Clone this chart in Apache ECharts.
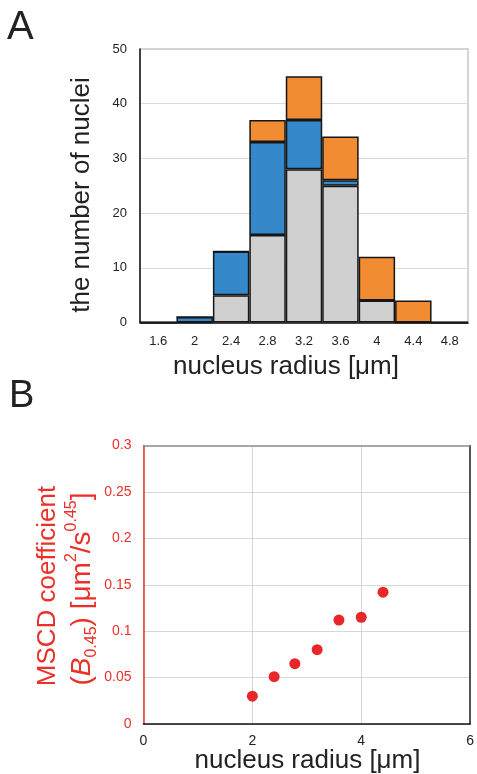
<!DOCTYPE html>
<html>
<head>
<meta charset="utf-8">
<script src="https://cdn.jsdelivr.net/npm/echarts@6/dist/echarts.min.js"></script>
<style>
  html, body { margin: 0; padding: 0; background: #fff; }
  #main { width: 477px; height: 774px; }
</style>
</head>
<body>
<div id="main"></div>
<script>
// panel A: histogram of nucleus radius (stacked)
const radiusBins = ['1.6', '2', '2.4', '2.8', '3.2', '3.6', '4', '4.4', '4.8'];
const greyCounts = [0, 0, 5, 16, 28, 25, 4, 0, 0];
const blueCounts = [0, 1, 8, 17, 9, 1, 0, 0, 0];
const orangeCounts = [0, 0, 0, 4, 8, 8, 8, 4, 0];

// panel B: MSCD coefficient vs nucleus radius
const radiusB = [2.0, 2.4, 2.78, 3.19, 3.59, 4.0, 4.4];
const mscdB = [0.030, 0.051, 0.065, 0.080, 0.112, 0.115, 0.142];

const chart = echarts.init(document.getElementById('main'));
const font = '"Liberation Sans", Arial, sans-serif';
const red = '#ec2f27';
const ink = '#222';

function stackBar(name, data, color) {
  return {
    name: name,
    type: 'bar',
    stack: 'count',
    xAxisIndex: 0,
    yAxisIndex: 0,
    barCategoryGap: '0%',
    data: data,
    itemStyle: { color: color, borderColor: '#161616', borderWidth: 1.5 }
  };
}

const option = {
  animation: false,
  textStyle: { fontFamily: font },
  grid: [
    { left: 140, top: 49, width: 328, height: 273.5, show: true,
      borderColor: '#c6c6c6', borderWidth: 1.5, backgroundColor: 'transparent' },
    { left: 143.5, top: 445.5, width: 329.5, height: 278.5 }
  ],
  xAxis: [
    {
      gridIndex: 0, type: 'category', data: radiusBins,
      axisLine: { lineStyle: { color: '#111', width: 1.5 } },
      axisTick: { show: false },
      axisLabel: { color: ink, fontSize: 13, margin: 12 }
    },
    {
      gridIndex: 1, type: 'value', min: 0, max: 6, interval: 2,
      axisLine: { onZero: false, lineStyle: { color: '#111', width: 1.5 } },
      axisTick: { show: false },
      axisLabel: { color: ink, fontSize: 14, margin: 10 },
      splitLine: { lineStyle: { color: '#d6d6d6', width: 1 }, showMaxLine: false }
    },
    {
      gridIndex: 1, type: 'value', min: 0, max: 6, position: 'top',
      axisLine: { onZero: false, lineStyle: { color: '#8a8a8a', width: 1.5 } },
      axisTick: { show: false }, axisLabel: { show: false }, splitLine: { show: false }
    }
  ],
  yAxis: [
    {
      gridIndex: 0, type: 'value', min: 0, max: 50, interval: 10,
      axisLine: { show: true, lineStyle: { color: '#111', width: 1.5 } },
      axisTick: { show: false },
      axisLabel: { color: ink, fontSize: 13, margin: 13 },
      splitLine: { lineStyle: { color: '#dadada', width: 1 }, showMaxLine: false }
    },
    {
      gridIndex: 1, type: 'value', min: 0, max: 0.3, interval: 0.05,
      axisLine: { show: true, onZero: false, lineStyle: { color: red, width: 1.5 } },
      axisTick: { show: false },
      axisLabel: { color: red, fontSize: 14, margin: 12 },
      splitLine: { lineStyle: { color: '#d6d6d6', width: 1 }, showMaxLine: false }
    },
    {
      gridIndex: 1, type: 'value', min: 0, max: 0.3, position: 'right',
      axisLine: { show: true, onZero: false, lineStyle: { color: '#1a1a1a', width: 1.5 } },
      axisTick: { show: false }, axisLabel: { show: false }, splitLine: { show: false }
    }
  ],
  series: [
    stackBar('grey', greyCounts, '#d0d0d0'),
    stackBar('blue', blueCounts, '#3588c9'),
    stackBar('orange', orangeCounts, '#f28c33'),
    {
      name: 'MSCD', type: 'scatter', xAxisIndex: 1, yAxisIndex: 1,
      symbolSize: 11,
      itemStyle: { color: '#e8272a', opacity: 1 },
      data: radiusB.map((r, i) => [r, mscdB[i]])
    }
  ],
  graphic: [
    { type: 'text', x: 7, y: 28,
      style: { text: 'A', font: '40px ' + font, fill: ink, verticalAlign: 'middle' } },
    { type: 'text', x: 9, y: 397,
      style: { text: 'B', font: '38px ' + font, fill: ink, verticalAlign: 'middle' } },
    { type: 'text', x: 82, y: 195, rotation: Math.PI / 2,
      style: { text: 'the number of nuclei', font: '26px ' + font, fill: ink,
        align: 'center', verticalAlign: 'middle' } },
    { type: 'text', x: 286, y: 367,
      style: { text: 'nucleus radius [μm]', font: '26px ' + font, fill: ink,
        align: 'center', verticalAlign: 'middle' } },
    { type: 'text', x: 307.5, y: 761,
      style: { text: 'nucleus radius [μm]', font: '26px ' + font, fill: ink,
        align: 'center', verticalAlign: 'middle' } },
    { type: 'text', x: 48, y: 586, rotation: Math.PI / 2,
      style: { text: 'MSCD coefficient', font: '26px ' + font, fill: red,
        align: 'center', verticalAlign: 'middle' } },
    { type: 'text', x: 82, y: 589, rotation: Math.PI / 2,
      style: {
        text: '{n|(}{bi|B}{sub|0.45}{n|) [μm}{sup|2}{n|/s}{sup|0.45}{n|]}',
        fill: red, align: 'center', verticalAlign: 'middle',
        rich: {
          n: { fontSize: 28, fontFamily: font, fill: red, lineHeight: 36 },
          bi: { fontSize: 28, fontFamily: font, fontStyle: 'italic', fill: red, lineHeight: 36 },
          sub: { fontSize: 16, fontFamily: font, fill: red, lineHeight: 16, verticalAlign: 'bottom' },
          sup: { fontSize: 16, fontFamily: font, fill: red, lineHeight: 16, verticalAlign: 'top' }
        }
      } }
  ]
};

chart.setOption(option);
</script>
</body>
</html>
